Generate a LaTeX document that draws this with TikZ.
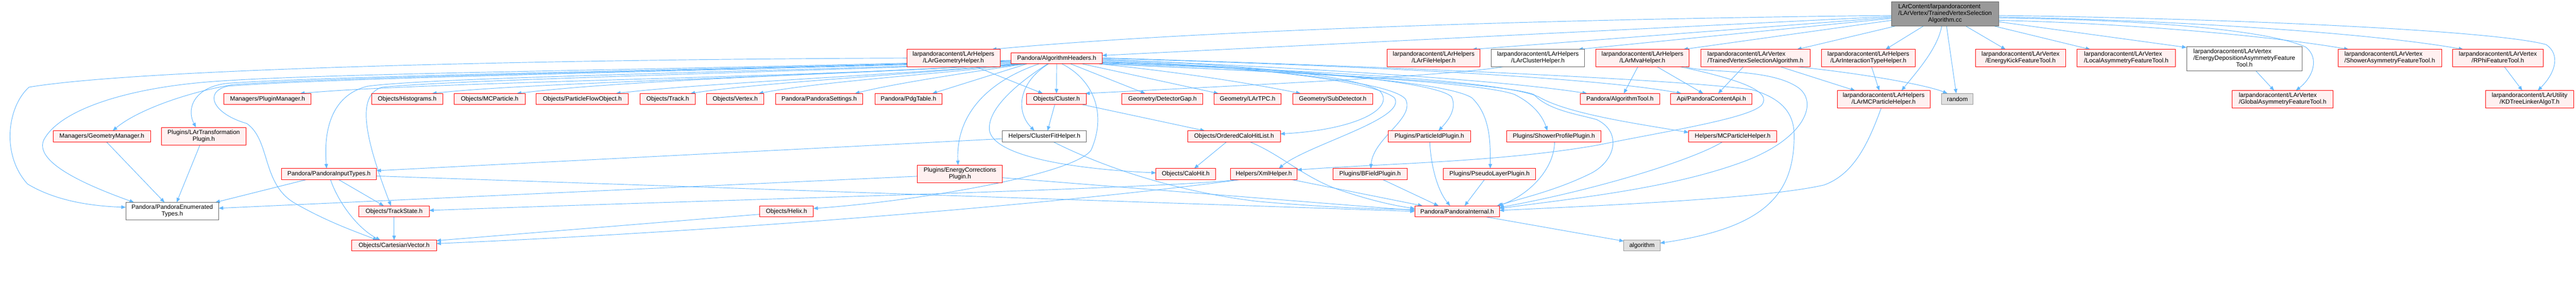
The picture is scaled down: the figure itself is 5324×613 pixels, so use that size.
\documentclass[tikz,border=0pt]{standalone}
\usepackage{fontspec}
\setmainfont{Liberation Sans}
\usetikzlibrary{arrows.meta,calc}
\definecolor{edgeblue}{HTML}{63B8FF}
\definecolor{truncfill}{HTML}{FFF0F0}
\definecolor{truncline}{HTML}{FF0000}
\definecolor{normline}{HTML}{666666}
\definecolor{stdfill}{HTML}{E0E0E0}
\definecolor{stdline}{HTML}{999999}
\definecolor{topfill}{HTML}{999999}
\definecolor{topline}{HTML}{666666}
\pgfdeclarelayer{bg}
\pgfsetlayers{bg,main}
\newcommand{\lineLC}[2]{\begin{tabular}{@{}l@{}}#1\\\multicolumn{1}{@{}c@{}}{#2}\end{tabular}}
\newcommand{\lineLLC}[3]{\begin{tabular}{@{}l@{}}#1\\#2\\\multicolumn{1}{@{}c@{}}{#3}\end{tabular}}
\newcommand{\boxnode}[7]{\node[#1, minimum width={(#5-#3)*0.75pt}, minimum height={(#6-#4)*0.75pt}] (#2) at ({(#3+#5)/2},{(#4+#6)/2}) {#7};}
\tikzset{
 nbase/.style={draw, line width=0.75pt, inner sep=0pt, outer sep=0pt, align=center, text=black, font=\fontsize{9.5}{10.3}\selectfont},
 trunc/.style={nbase, draw=truncline, fill=truncfill},
 norm/.style={nbase, draw=normline, fill=white},
 stdh/.style={nbase, draw=stdline, fill=stdfill},
 topn/.style={nbase, draw=topline, fill=topfill},
 dep/.style={draw=edgeblue, line width=0.75pt, -{Triangle[length=7pt,width=5.5pt]}},
}
\begin{document}
\begin{tikzpicture}[x=0.75pt,y=-0.75pt]
\useasboundingbox (0,0) rectangle (5324,613);
% ---------- nodes ----------
\boxnode{topn}{T}{3909}{4}{4131}{54}{\lineLLC{LArContent/larpandoracontent}{/LArVertex/TrainedVertexSelection}{Algorithm.cc}}
% row 2
\boxnode{trunc}{geo}{1874}{102}{2067}{138}{\lineLC{larpandoracontent/LArHelpers}{/LArGeometryHelper.h}}
\boxnode{trunc}{ah}{2090}{109}{2278}{132}{Pandora/AlgorithmHeaders.h}
\boxnode{trunc}{file}{2867}{102}{3059}{138}{\lineLC{larpandoracontent/LArHelpers}{/LArFileHelper.h}}
\boxnode{norm}{clus}{3082}{102}{3275}{138}{\lineLC{larpandoracontent/LArHelpers}{/LArClusterHelper.h}}
\boxnode{trunc}{mva}{3298}{102}{3491}{138}{\lineLC{larpandoracontent/LArHelpers}{/LArMvaHelper.h}}
\boxnode{trunc}{tvsah}{3515}{102}{3741}{138}{\lineLC{larpandoracontent/LArVertex}{/TrainedVertexSelectionAlgorithm.h}}
\boxnode{trunc}{itype}{3765}{102}{3958}{138}{\lineLC{larpandoracontent/LArHelpers}{/LArInteractionTypeHelper.h}}
\boxnode{trunc}{ekick}{4083}{102}{4269}{138}{\lineLC{larpandoracontent/LArVertex}{/EnergyKickFeatureTool.h}}
\boxnode{trunc}{local}{4293}{102}{4496}{138}{\lineLC{larpandoracontent/LArVertex}{/LocalAsymmetryFeatureTool.h}}
\boxnode{norm}{edep}{4519}{96}{4758}{146}{\lineLLC{larpandoracontent/LArVertex}{/EnergyDepositionAsymmetryFeature}{Tool.h}}
\boxnode{trunc}{shower}{4832}{102}{5046}{138}{\lineLC{larpandoracontent/LArVertex}{/ShowerAsymmetryFeatureTool.h}}
\boxnode{trunc}{rphi}{5069}{102}{5256}{138}{\lineLC{larpandoracontent/LArVertex}{/RPhiFeatureTool.h}}
% row 3
\boxnode{trunc}{plugm}{463}{193}{643}{216}{Managers/PluginManager.h}
\boxnode{trunc}{hist}{768}{193}{915}{216}{Objects/Histograms.h}
\boxnode{trunc}{mcp}{939}{193}{1085}{216}{Objects/MCParticle.h}
\boxnode{trunc}{pfo}{1108}{193}{1299}{216}{Objects/ParticleFlowObject.h}
\boxnode{trunc}{track}{1323}{193}{1437}{216}{Objects/Track.h}
\boxnode{trunc}{vertex}{1460}{193}{1579}{216}{Objects/Vertex.h}
\boxnode{trunc}{settings}{1603}{193}{1783}{216}{Pandora/PandoraSettings.h}
\boxnode{trunc}{pdg}{1808}{193}{1947}{216}{Pandora/PdgTable.h}
\boxnode{trunc}{cluster}{2122}{193}{2245}{216}{Objects/Cluster.h}
\boxnode{trunc}{gap}{2319}{193}{2486}{216}{Geometry/DetectorGap.h}
\boxnode{trunc}{tpc}{2509}{193}{2648}{216}{Geometry/LArTPC.h}
\boxnode{trunc}{subdet}{2672}{193}{2837}{216}{Geometry/SubDetector.h}
\boxnode{trunc}{algtool}{3266}{193}{3430}{216}{Pandora/AlgorithmTool.h}
\boxnode{trunc}{api}{3453}{193}{3621}{216}{Api/PandoraContentApi.h}
\boxnode{stdh}{random}{4013}{193}{4078}{216}{random}
\boxnode{trunc}{lmcp}{3797}{187}{3989}{223}{\lineLC{larpandoracontent/LArHelpers}{/LArMCParticleHelper.h}}
\boxnode{trunc}{global}{4613}{187}{4822}{223}{\lineLC{larpandoracontent/LArVertex}{/GlobalAsymmetryFeatureTool.h}}
\boxnode{trunc}{kdtree}{5137}{187}{5319}{223}{\lineLC{larpandoracontent/LArUtility}{/KDTreeLinkerAlgoT.h}}
% row 4
\boxnode{trunc}{geom}{110}{270}{311}{293}{Managers/GeometryManager.h}
\boxnode{trunc}{lartr}{334}{263}{508}{300}{\lineLC{Plugins/LArTransformation}{Plugin.h}}
\boxnode{norm}{cfit}{2072}{270}{2245}{293}{Helpers/ClusterFitHelper.h}
\boxnode{trunc}{ochl}{2455}{270}{2646}{293}{Objects/OrderedCaloHitList.h}
\boxnode{trunc}{pid}{2869}{270}{3039}{293}{Plugins/ParticleIdPlugin.h}
\boxnode{trunc}{shprof}{3114}{270}{3309}{293}{Plugins/ShowerProfilePlugin.h}
\boxnode{trunc}{mcph}{3490}{270}{3672}{293}{Helpers/MCParticleHelper.h}
% row 5
\boxnode{trunc}{input}{582}{348}{778}{371}{Pandora/PandoraInputTypes.h}
\boxnode{trunc}{ecorr}{1896}{341}{2072}{377}{\lineLC{Plugins/EnergyCorrections}{Plugin.h}}
\boxnode{trunc}{calohit}{2389}{348}{2512}{371}{Objects/CaloHit.h}
\boxnode{trunc}{xml}{2543}{348}{2681}{371}{Helpers/XmlHelper.h}
\boxnode{trunc}{bfield}{2755}{348}{2908}{371}{Plugins/BFieldPlugin.h}
\boxnode{trunc}{pseudo}{2983}{348}{3174}{371}{Plugins/PseudoLayerPlugin.h}
% row 6
\boxnode{norm}{enum}{260}{418}{452}{454}{\lineLC{Pandora/PandoraEnumerated}{Types.h}}
\boxnode{trunc}{tstate}{742}{425}{887}{448}{Objects/TrackState.h}
\boxnode{trunc}{helix}{1570}{425}{1681}{448}{Objects/Helix.h}
\boxnode{trunc}{internal}{2924}{425}{3099}{448}{Pandora/PandoraInternal.h}
% row 7
\boxnode{trunc}{cart}{727}{496}{902}{518}{Objects/CartesianVector.h}
\boxnode{stdh}{algo}{3356}{496}{3431}{518}{algorithm}
% ---------- edges ----------
\begin{pgfonlayer}{bg}
\fill[white] (0,0) rectangle (5324,613);
% top node
\draw[dep] ($(T.west)+(0,3)$) .. controls (3300,38) and (2500,60) .. ($(geo.north west)+(176,0)$);
\draw[dep] ($(T.west)+(0,5)$) -- ($(ah.east)+(0,-6)$);
\draw[dep] ($(T.west)+(0,7)$) -- ($(file.north west)+(176,0)$);
\draw[dep] ($(T.west)+(0,9)$) -- ($(clus.north west)+(180,0)$);
\draw[dep] ($(T.west)+(0,13)$) -- ($(mva.north west)+(181,0)$);
\draw[dep] ($(T.south west)+(8,0)$) -- ($(tvsah.north west)+(199,0)$);
\draw[dep] ($(T.south west)+(66,0)$) -- ($(itype.north west)+(132,0)$);
\draw[dep] ($(T.south west)+(104,0)$) .. controls (4005,100) and (3960,150) .. ($(lmcp.north west)+(133,0)$);
\draw[dep] ($(T.south west)+(114,0)$) -- ($(random.north west)+(30,0)$);
\draw[dep] ($(T.south west)+(154,0)$) -- ($(ekick.north west)+(62,0)$);
\draw[dep] ($(T.south west)+(213,0)$) -- ($(local.north west)+(27,0)$);
\draw[dep] ($(T.east)+(0,16)$) -- ($(edep.north west)+(0,2)$);
\draw[dep] ($(T.east)+(0,8)$) .. controls (4500,42) and (4700,68) .. (4765,97) .. controls (4795,120) and (4780,160) .. ($(global.north west)+(132,0)$);
\draw[dep] ($(T.east)+(0,13)$) .. controls (4400,48) and (4700,75) .. ($(shower.north west)+(22,0)$);
\draw[dep] ($(T.east)+(0,6)$) .. controls (4500,42) and (4900,68) .. ($(rphi.north west)+(22,0)$);
\draw[dep] ($(T.east)+(0,3)$) .. controls (4600,38) and (5150,62) .. (5262,92) .. controls (5292,112) and (5282,150) .. ($(kdtree.north west)+(108,0)$);
% trained vertex selection header
\draw[dep] ($(tvsah.south west)+(165,0)$) -- ($(lmcp.north west)+(37,0)$);
\draw[dep] ($(tvsah.south west)+(88,0)$) -- ($(api.north west)+(98,0)$);
\draw[dep] ($(tvsah.south west)+(200,0)$) .. controls (3850,152) and (3980,175) .. ($(random.north west)+(12,0)$);
\draw[dep] ($(itype.south west)+(103,0)$) -- ($(lmcp.north west)+(87,0)$);
% mva helper
\draw[dep] ($(mva.south west)+(87,0)$) -- ($(algtool.north west)+(90,0)$);
\draw[dep] ($(mva.south west)+(127,0)$) -- ($(api.north west)+(67,0)$);
\draw[dep] ($(mva.south west)+(175,0)$) .. controls (3600,165) and (3665,190) .. (3640,218) .. controls (3610,245) and (3450,270) .. (3300,300) .. controls (3100,335) and (2850,338) .. ($(xml.north east)+(0,3)$);
\draw[dep] ($(mva.south east)+(-8,0)$) .. controls (3530,152) and (3660,140) .. (3718,182) .. controls (3760,215) and (3725,290) .. (3600,335) .. controls (3450,390) and (3250,410) .. ($(internal.east)+(0,-6)$);
\draw[dep] ($(lmcp.south west)+(91,0)$) .. controls (3860,300) and (3830,360) .. (3770,382) .. controls (3650,410) and (3300,425) .. ($(internal.east)+(0,-2)$);
\draw[dep] ($(edep.south west)+(143,0)$) -- ($(global.north west)+(87,0)$);
\draw[dep] ($(rphi.south west)+(107,0)$) -- ($(kdtree.north west)+(76,0)$);
% geometry helper
\draw[dep] ($(geo.south west)+(143,0)$) -- ($(cluster.north west)+(33,0)$);
\draw[dep] (geo.west) .. controls (1200,122) and (300,140) .. (60,180) .. controls (15,220) and (2,320) .. (57,380) .. controls (120,418) and (200,426) .. ($(enum.west)+(0,-8)$);
% algorithm headers, leftwards
\draw[dep] ($(ah.south west)+(5,0)$) .. controls (1700,160) and (900,168) .. ($(plugm.north west)+(157,0)$);
\draw[dep] ($(ah.south west)+(10,0)$) .. controls (1700,158) and (1100,170) .. ($(hist.north west)+(125,0)$);
\draw[dep] ($(ah.south west)+(15,0)$) .. controls (1700,155) and (1300,165) .. ($(mcp.north west)+(129,0)$);
\draw[dep] ($(ah.south west)+(20,0)$) .. controls (1800,158) and (1450,172) .. ($(pfo.north west)+(165,0)$);
\draw[dep] ($(ah.south west)+(24,0)$) .. controls (1850,156) and (1560,172) .. ($(track.north west)+(104,0)$);
\draw[dep] ($(ah.south west)+(27,0)$) .. controls (1950,152) and (1700,168) .. ($(vertex.north west)+(108,0)$);
\draw[dep] ($(ah.south west)+(29,0)$) .. controls (2000,150) and (1850,172) .. ($(settings.north west)+(164,0)$);
\draw[dep] ($(ah.south west)+(32,0)$) -- ($(pdg.north west)+(119,0)$);
\draw[dep] (ah.south) -- (cluster.north);
\draw[dep] ($(ah.south west)+(123,0)$) -- ($(gap.north west)+(48,0)$);
\draw[dep] ($(ah.south west)+(147,0)$) -- ($(tpc.north west)+(9,0)$);
\draw[dep] ($(ah.south west)+(182,0)$) .. controls (2450,150) and (2600,175) .. ($(subdet.north west)+(16,0)$);
\draw[dep] ($(ah.south west)+(77,0)$) .. controls (2105,170) and (2098,230) .. ($(cfit.north west)+(66,0)$);
\draw[dep] ($(ah.south west)+(57,0)$) .. controls (2050,165) and (1975,230) .. ($(ecorr.north west)+(84,0)$);
\draw[dep] ($(ah.south west)+(75,0)$) .. controls (2090,180) and (2040,230) .. (2045,270) .. controls (2055,320) and (2200,348) .. ($(calohit.north west)+(0,9)$);
\draw[dep] ($(ah.south west)+(105,0)$) .. controls (2260,165) and (2288,235) .. (2255,310) .. controls (2220,360) and (1900,415) .. ($(helix.east)+(0,-6)$);
\draw[dep] ($(ah.west)+(0,9)$) .. controls (1500,150) and (900,160) .. (760,178) .. controls (690,195) and (668,260) .. ($(input.north west)+(93,0)$);
\draw[dep] ($(ah.west)+(0,10)$) .. controls (1500,152) and (950,165) .. (790,180) .. controls (740,195) and (748,270) .. ($(tstate.north west)+(66,0)$);
\draw[dep] ($(ah.west)+(0,7)$) .. controls (1400,148) and (700,160) .. (470,178) .. controls (420,190) and (440,235) .. (510,255) .. controls (560,290) and (540,380) .. (610,420) .. controls (680,460) and (740,480) .. ($(cart.north west)+(53,0)$);
\draw[dep] ($(ah.west)+(0,4)$) .. controls (1400,145) and (650,150) .. (420,170) .. controls (250,185) and (120,230) .. (90,290) .. controls (70,340) and (200,390) .. ($(enum.north west)+(17,0)$);
\draw[dep] ($(ah.west)+(0,6)$) .. controls (1400,147) and (700,158) .. (480,175) .. controls (380,192) and (280,230) .. ($(geom.north west)+(123,0)$);
\draw[dep] ($(ah.west)+(0,5)$) .. controls (1400,146) and (700,156) .. (470,172) .. controls (400,180) and (385,225) .. ($(lartr.north west)+(71,0)$);
% algorithm headers, rightwards
\draw[dep] ($(ah.east)+(0,3)$) .. controls (2500,130) and (2790,150) .. (2852,188) .. controls (2885,225) and (2800,268) .. ($(ochl.east)+(0,-5)$);
\draw[dep] ($(ah.east)+(0,5)$) .. controls (2500,132) and (2830,160) .. (2882,202) .. controls (2910,245) and (2700,300) .. ($(xml.north east)+(-38,0)$);
\draw[dep] ($(ah.east)+(0,7)$) .. controls (2550,135) and (2875,165) .. (2905,205) .. controls (2925,245) and (2838,285) .. ($(bfield.north west)+(78,0)$);
\draw[dep] ($(ah.east)+(0,8)$) .. controls (2600,135) and (2965,165) .. (3000,200) .. controls (3012,225) and (2992,250) .. ($(pid.north west)+(104,0)$);
\draw[dep] ($(ah.east)+(0,9)$) .. controls (2600,140) and (2985,165) .. (3042,202) .. controls (3082,240) and (3080,300) .. ($(pseudo.north west)+(97,0)$);
\draw[dep] ($(ah.south east)+(-2,0)$) .. controls (2700,150) and (3060,170) .. (3130,195) .. controls (3170,215) and (3188,240) .. ($(shprof.north west)+(84,0)$);
\draw[dep] ($(ah.east)+(0,2)$) .. controls (2700,140) and (3100,165) .. ($(algtool.north west)+(14,0)$);
\draw[dep] (ah.east) .. controls (2800,135) and (3300,160) .. ($(api.north west)+(22,0)$);
\draw[dep] ($(ah.east)+(0,10)$) .. controls (2700,145) and (3100,165) .. (3180,200) .. controls (3240,235) and (3380,255) .. ($(mcph.west)+(0,-8)$);
\draw[dep] ($(ah.south east)+(-6,0)$) .. controls (2700,150) and (3100,170) .. (3170,195) .. controls (3200,228) and (3262,236) .. (3300,247) .. controls (3352,272) and (3340,330) .. (3290,357) .. controls (3220,392) and (3150,408) .. ($(internal.north east)+(-5,0)$);
\draw[dep] ($(ah.east)+(0,-1)$) .. controls (2800,135) and (3450,162) .. (3620,185) .. controls (3690,205) and (3708,240) .. (3708,280) .. controls (3708,400) and (3650,470) .. ($(algo.east)+(0,-5)$);
% cluster and friends
\draw[dep] ($(cluster.south west)+(58,0)$) -- ($(cfit.north west)+(93,0)$);
\draw[dep] ($(cluster.south west)+(115,0)$) -- ($(ochl.north west)+(35,0)$);
\draw[dep] ($(clus.south west)+(25,0)$) .. controls (3000,155) and (2700,170) .. ($(cluster.north east)+(-2,0)$);
\draw[dep] ($(ochl.south west)+(80,0)$) -- ($(calohit.north west)+(79,0)$);
\draw[dep] ($(ochl.south west)+(128,0)$) .. controls (2650,320) and (2700,372) .. (2780,396) .. controls (2840,416) and (2890,426) .. ($(internal.west)+(0,-6)$);
\draw[dep] ($(cfit.west)+(0,5)$) -- ($(input.east)+(0,-7)$);
\draw[dep] ($(cfit.south west)+(105,0)$) .. controls (2250,330) and (2400,392) .. (2600,416) .. controls (2750,429) and (2850,432) .. ($(internal.west)+(0,-4)$);
\draw[dep] ($(ecorr.west)+(0,5)$) -- ($(enum.east)+(0,-6)$);
\draw[dep] ($(ecorr.east)+(0,8)$) -- ($(internal.west)+(0,-2)$);
% input types
\draw[dep] ($(input.south west)+(51,0)$) -- ($(enum.north east)+(-7,0)$);
\draw[dep] ($(input.south west)+(118,0)$) -- ($(tstate.north west)+(51,0)$);
\draw[dep] ($(input.south west)+(101,0)$) .. controls (700,420) and (740,472) .. ($(cart.north west)+(59,0)$);
\draw[dep] ($(input.east)+(0,4)$) -- (internal.west);
\draw[dep] (tstate.south) -- (cart.north);
\draw[dep] ($(helix.west)+(0,6)$) -- ($(cart.east)+(0,-10)$);
% xml helper
\draw[dep] ($(xml.south west)+(20,0)$) .. controls (2200,420) and (1500,478) .. ($(cart.east)+(0,-4)$);
\draw[dep] ($(xml.south west)+(16,0)$) .. controls (2400,390) and (1500,412) .. ($(tstate.east)+(0,-2)$);
\draw[dep] ($(xml.south east)+(-11,0)$) -- ($(internal.north west)+(16,0)$);
% plugins into internal
\draw[dep] ($(bfield.south west)+(103,0)$) -- ($(internal.north west)+(49,0)$);
\draw[dep] ($(pid.south west)+(86,0)$) .. controls (2957,340) and (2970,392) .. ($(internal.north west)+(73,0)$);
\draw[dep] ($(pseudo.south west)+(85,0)$) -- ($(internal.north west)+(103,0)$);
\draw[dep] ($(shprof.south west)+(99,0)$) .. controls (3212,350) and (3160,402) .. ($(internal.north east)+(-2,0)$);
\draw[dep] ($(mcph.south west)+(70,0)$) .. controls (3500,330) and (3300,392) .. ($(internal.east)+(0,-8)$);
\draw[dep] ($(internal.south west)+(148,0)$) -- ($(algo.west)+(0,-9)$);
% managers and plugins into enumerated types
\draw[dep] ($(geom.south west)+(110,0)$) -- ($(enum.north west)+(80,0)$);
\draw[dep] ($(lartr.south west)+(79,0)$) -- ($(enum.north west)+(105,0)$);
\end{pgfonlayer}
\end{tikzpicture}
\end{document}
